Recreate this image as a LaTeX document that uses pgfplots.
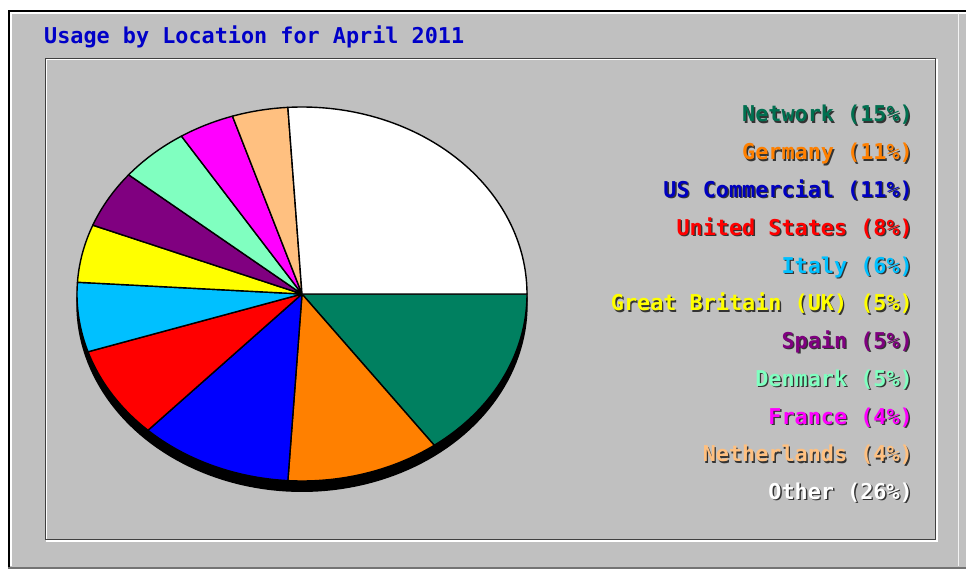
\documentclass[border=0pt]{standalone}
\usepackage{fontspec}
\setmonofont{DejaVu Sans Mono}
\usepackage{pgfplots}
\usepackage{pgfplotstable}
\pgfplotsset{compat=1.18}

\definecolor{bg}{HTML}{C0C0C0}
\definecolor{titleblue}{HTML}{0000C8}
\definecolor{cNet}{HTML}{008060}
\definecolor{cGer}{HTML}{FF8000}
\definecolor{cUSC}{HTML}{0000FF}
\definecolor{cUS}{HTML}{FF0000}
\definecolor{cIta}{HTML}{00C0FF}
\definecolor{cGB}{HTML}{FFFF00}
\definecolor{cSpa}{HTML}{800080}
\definecolor{cDen}{HTML}{80FFC0}
\definecolor{cFra}{HTML}{FF00FF}
\definecolor{cNed}{HTML}{FFC080}
\definecolor{cOth}{HTML}{FFFFFF}
\definecolor{lUSC}{HTML}{0000C0}
\definecolor{lNet}{HTML}{007050}

\pgfplotstableread{
name value col
Network 15 cNet
Germany 11 cGer
USCommercial 11 cUSC
UnitedStates 8 cUS
Italy 6 cIta
GreatBritain 5 cGB
Spain 5 cSpa
Denmark 5 cDen
France 4 cFra
Netherlands 4 cNed
Other 26 cOth
}\piedata

\newcommand\legfont{\ttfamily\bfseries\fontsize{21.8}{24}\selectfont}
\newcommand\leg[3]{%
  \node[anchor=base east, text=black!80, font=\legfont, inner sep=0pt] at (914.4pt,{-1*(#1)*1pt-1.4pt}) {#3};
  \node[anchor=base east, text=#2, font=\legfont, inner sep=0pt] at (913pt,{-1*(#1)*1pt}) {#3};}

\begin{document}
\begin{tikzpicture}[x=1pt,y=1pt]
\useasboundingbox (0,0) rectangle (966,-572);
\fill[white] (0,0) rectangle (966,-572);
\fill[bg] (8,-10) rectangle (966,-568);
\draw[black, line width=1.6] (8.8,-568) -- (8.8,-10.8) -- (966,-10.8);
\draw[white, line width=1.4] (11,-566) -- (11,-13) -- (966,-13);
\draw[black!55, line width=2] (8,-568) -- (966,-568);
\draw[white!80!bg, line width=1] (958,-13) -- (958,-566);
% inner panel
\draw[white, line width=1.4] (46.5,-59.5) rectangle (937,-541);
\draw[black!75, line width=1.6] (45.5,-58.5) rectangle (935.5,-539.5);
% title
\node[anchor=base west, text=titleblue, font=\ttfamily\bfseries\fontsize{21.8}{24}\selectfont, inner sep=0pt] at (44,-44) {Usage by Location for April 2011};

\begin{axis}[at={(302pt,-294pt)}, anchor=center, scale only axis,
  width=450pt, height=374pt, xmin=-1, xmax=1, ymin=-1, ymax=1,
  hide axis, clip=false]
  % shadow
  \addplot[fill=black, draw=black, line width=1.4pt, domain=0:360, samples=181] ({cos(x)},{sin(x)-0.055}) -- cycle;
  \pgfmathsetmacro\cum{0}
  \pgfplotsforeachungrouped \i in {0,...,10}{%
    \pgfplotstablegetelem{\i}{value}\of\piedata \let\sliceval\pgfplotsretval
    \pgfplotstablegetelem{\i}{col}\of\piedata \let\slicecol\pgfplotsretval
    \pgfmathsetmacro\angA{-3.6*\cum}
    \pgfmathsetmacro\angB{-3.6*(\cum+\sliceval)}
    \pgfmathtruncatemacro\nsamp{max(8,4*\sliceval)}
    \edef\doslice{\noexpand\addplot[fill=\slicecol, draw=black, line width=1.4pt, line join=round, domain=\angB:\angA, samples=\nsamp] ({cos(x)},{sin(x)}) -- (axis cs:0,0) -- cycle;}
    \doslice
    \pgfmathsetmacro\cum{\cum+\sliceval}
  }
\end{axis}

\leg{122}{lNet}{Network (15\%)}
\leg{159.75}{cGer}{Germany (11\%)}
\leg{197.5}{lUSC}{US Commercial (11\%)}
\leg{235.25}{cUS}{United States (8\%)}
\leg{273}{cIta}{Italy (6\%)}
\leg{310.75}{cGB}{Great Britain (UK) (5\%)}
\leg{348.5}{cSpa}{Spain (5\%)}
\leg{386.25}{cDen}{Denmark (5\%)}
\leg{424}{cFra}{France (4\%)}
\leg{461.75}{cNed}{Netherlands (4\%)}
\leg{499.5}{cOth}{Other (26\%)}
\end{tikzpicture}
\end{document}
